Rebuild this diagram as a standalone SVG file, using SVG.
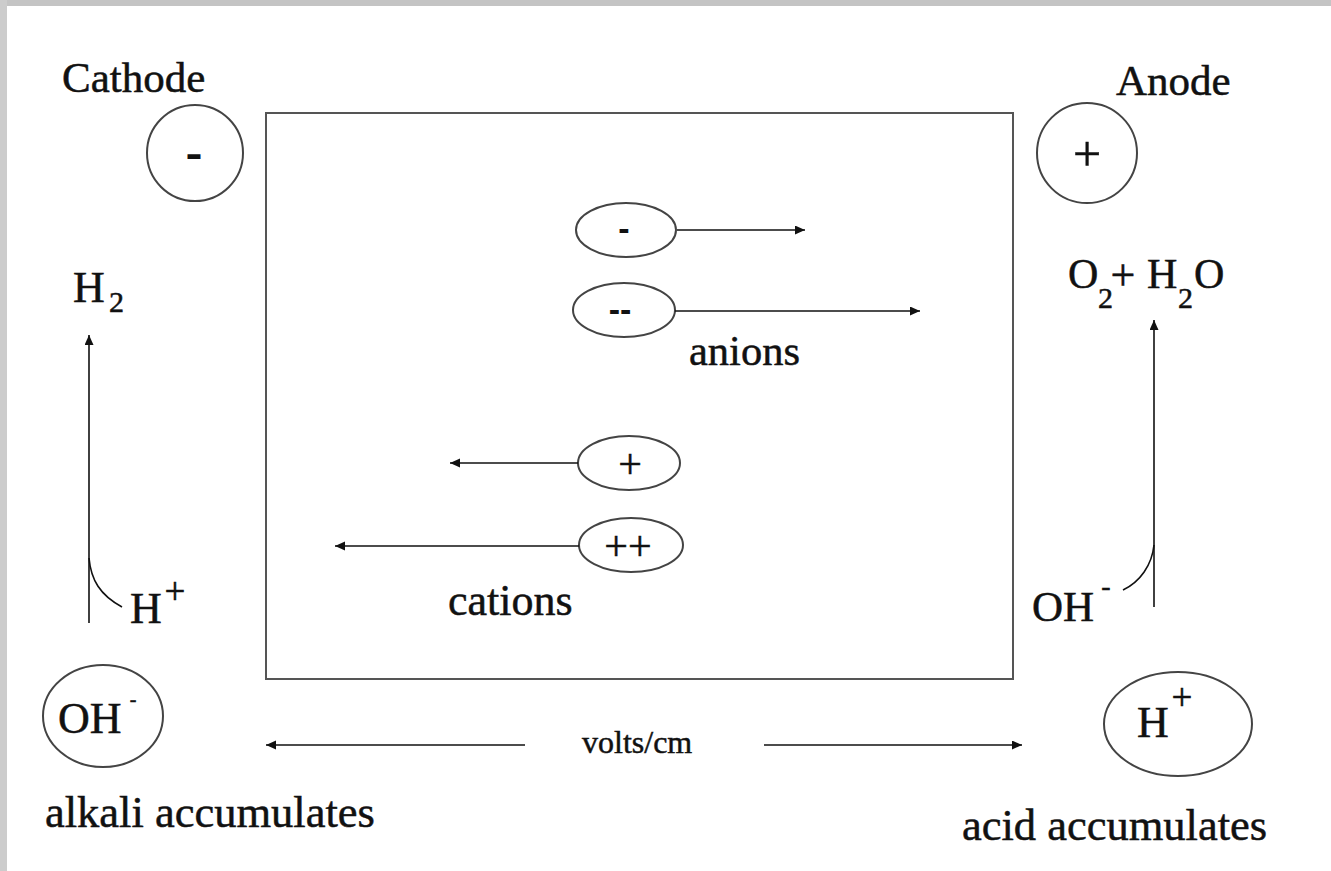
<svg xmlns="http://www.w3.org/2000/svg" width="1331" height="871" viewBox="0 0 1331 871">
<style>
.t{font-family:"Liberation Serif","Times New Roman",serif;fill:#111;stroke:#111;stroke-width:0.5}
.ln{stroke:#111;stroke-width:1.6;fill:none}
.ar{stroke:#111;stroke-width:1.6;fill:none;marker-end:url(#ah)}
.ion{fill:#fff;stroke:#444;stroke-width:2}
.sg{font-family:"Liberation Sans",Arial,sans-serif;font-weight:bold;fill:#111}
</style>
<defs>
<marker id="ah" markerUnits="userSpaceOnUse" markerWidth="12" markerHeight="10" refX="10" refY="4.5" orient="auto">
<path d="M0,0 L10,4.5 L0,9 z" fill="#111"/>
</marker>
</defs>
<rect x="0" y="0" width="1331" height="871" fill="#fff"/>
<rect x="0" y="0" width="1331" height="6" fill="#c4c4c4"/>
<rect x="0" y="0" width="7" height="871" fill="#cccccc"/>

<g id="cell">
<rect x="266" y="113" width="747" height="566" fill="none" stroke="#555" stroke-width="2"/>
</g>

<g id="cathode">
<text class="t" x="62" y="92" font-size="43">Cathode</text>
<circle class="ion" cx="195" cy="153" r="48"/>
<text class="sg" x="194" y="167" font-size="40" text-anchor="middle" textLength="17" lengthAdjust="spacingAndGlyphs">-</text>
</g>

<g id="anode">
<text class="t" x="1116" y="95" font-size="43">Anode</text>
<circle class="ion" cx="1087" cy="153" r="50"/>
<text class="t" x="1087" y="171" font-size="50" text-anchor="middle" stroke-width="0">+</text>
</g>

<g id="h2">
<text class="t" x="73" y="302" font-size="44">H</text>
<text class="t" x="109" y="312" font-size="30">2</text>
</g>

<g id="hplus-left">
<text class="t" x="130" y="623" font-size="44">H</text>
<text class="t" x="175" y="604" font-size="37" text-anchor="middle">+</text>
</g>

<g id="o2h2o">
<text class="t" x="1068" y="288" font-size="42">O</text>
<text class="t" x="1098" y="308" font-size="30">2</text>
<text class="t" x="1123" y="290" font-size="44" text-anchor="middle">+</text>
<text class="t" x="1147" y="288" font-size="42">H</text>
<text class="t" x="1178" y="308" font-size="30">2</text>
<text class="t" x="1194" y="288" font-size="42">O</text>
</g>

<g id="oh-right">
<text class="t" x="1032" y="621" font-size="43">OH</text>
<text class="t" x="1106" y="595" font-size="28" text-anchor="middle">-</text>
</g>

<g id="anion1">
<ellipse class="ion" cx="626" cy="230" rx="50" ry="27"/>
<text class="sg" x="624" y="240" font-size="34" text-anchor="middle">-</text>
</g>
<g id="anion2">
<ellipse class="ion" cx="624" cy="310" rx="51" ry="27"/>
<text class="sg" x="620" y="321" font-size="34" text-anchor="middle">--</text>
</g>
<g id="anions-label">
<text class="t" x="689" y="365" font-size="42.5">anions</text>
</g>

<g id="cation1">
<ellipse class="ion" cx="629" cy="463" rx="51" ry="27"/>
<text class="t" x="630" y="478" font-size="42" text-anchor="middle" stroke-width="0">+</text>
</g>
<g id="cation2">
<ellipse class="ion" cx="631" cy="545" rx="52" ry="27"/>
<text class="t" x="628" y="560" font-size="42" text-anchor="middle" stroke-width="0">++</text>
</g>
<g id="cations-label">
<text class="t" x="448" y="615" font-size="44">cations</text>
</g>

<g id="oh-bottom">
<ellipse class="ion" cx="103" cy="716" rx="60" ry="51"/>
<text class="t" x="58" y="733" font-size="44">OH</text>
<text class="t" x="133" y="706" font-size="20" text-anchor="middle">-</text>
</g>

<g id="hplus-bottom">
<ellipse class="ion" cx="1178" cy="724" rx="74" ry="52"/>
<text class="t" x="1137" y="737" font-size="44">H</text>
<text class="t" x="1182" y="710" font-size="37" text-anchor="middle">+</text>
</g>

<g id="volts-label">
<text class="t" x="582" y="753" font-size="32" stroke-width="0.3">volts/cm</text>
</g>

<g id="alkali-label">
<text class="t" x="45" y="827" font-size="44.5">alkali accumulates</text>
</g>
<g id="acid-label">
<text class="t" x="962" y="840" font-size="44.5">acid accumulates</text>
</g>

<g id="connectors">
<line class="ar" x1="677" y1="230" x2="805" y2="230"/>
<line class="ar" x1="675" y1="311" x2="920" y2="311"/>
<line class="ar" x1="578" y1="463" x2="450" y2="463"/>
<line class="ar" x1="579" y1="546" x2="335" y2="546"/>
<line class="ar" x1="525" y1="745" x2="266" y2="745"/>
<line class="ar" x1="764" y1="745" x2="1022" y2="745"/>
<line class="ar" x1="89" y1="623" x2="89" y2="335"/>
<path class="ln" d="M89 558 C91 580 100 595 122 607"/>
<line class="ar" x1="1154" y1="607" x2="1154" y2="320"/>
<path class="ln" d="M1154 545 C1152 565 1140 582 1123 590"/>
</g>
</svg>
